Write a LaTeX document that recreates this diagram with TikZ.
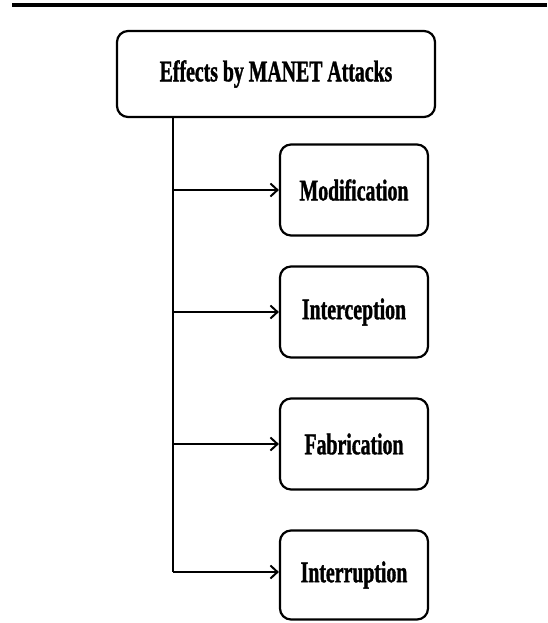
\documentclass[tikz,border=0pt]{standalone}
\usepackage{fontspec}
\setmainfont{Liberation Serif}
\newfontfamily\boxfont[FakeStretch=0.66,FakeBold=1.2]{Liberation Serif Bold}
\usetikzlibrary{arrows.meta}
\begin{document}
\begin{tikzpicture}[x=1pt,y=1pt,
  rbox/.style={draw,line width=2.2pt,rounded corners=11pt,inner sep=0pt,
    font=\boxfont\fontsize{30}{32}\selectfont},
  link/.style={line width=2pt},
  arr/.style={link,-{Straight Barb[length=7pt,width=13pt,line width=2pt]}}]
\useasboundingbox (0,0) rectangle (547,-623);
\draw[line width=3.5pt] (12,-5) -- (547,-5);
\node[rbox,minimum width=318pt,minimum height=86pt] (top) at (276,-74) {Effects by MANET Attacks};
\node[rbox,minimum width=148pt,minimum height=91pt] (mod) at (354,-190) {Modification};
\node[rbox,minimum width=148pt,minimum height=91pt] (int) at (354,-312) {Interception};
\node[rbox,minimum width=148pt,minimum height=91pt] (fab) at (354,-444) {Fabrication};
\node[rbox,minimum width=148pt,minimum height=89pt] (irr) at (354,-575) {Interruption};
\coordinate (s0) at (top.south -| 173,0);
\coordinate (s4) at (173,-572);
\draw[link] (s0) -- (173,-190);
\draw[arr] (173,-190) -- (mod.west);
\draw[link] (173,-190) -- (173,-312);
\draw[arr] (173,-312) -- (int.west);
\draw[link] (173,-312) -- (173,-444);
\draw[arr] (173,-444) -- (fab.west);
\draw[link,rounded corners=2pt] (173,-444) -- (s4) -- (173,-572);
\draw[arr] (s4) -- (irr.west |- s4);
\end{tikzpicture}
\end{document}
